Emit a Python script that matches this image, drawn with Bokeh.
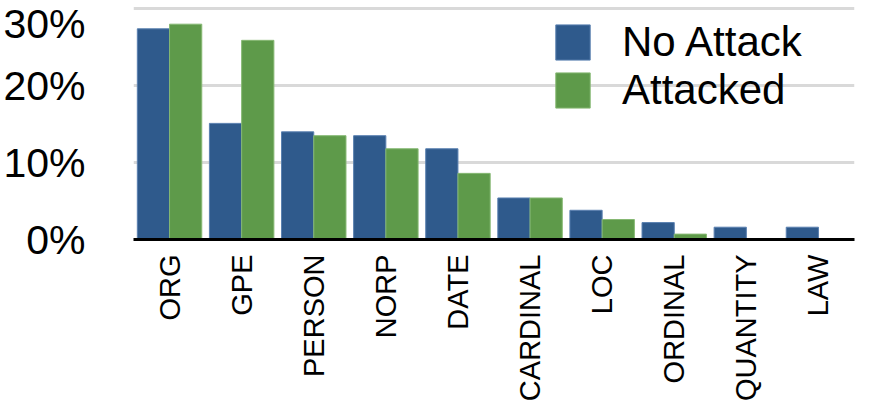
import math
from bokeh.plotting import figure
from bokeh.models import ColumnDataSource, FactorRange, Range1d, Legend, LegendItem, PrintfTickFormatter, FixedTicker
from bokeh.transform import dodge
from bokeh.embed import file_html
from bokeh.resources import INLINE

categories = ["ORG", "GPE", "PERSON", "NORP", "DATE", "CARDINAL", "LOC", "ORDINAL", "QUANTITY", "LAW"]
no_attack = [27.4, 15.1, 14.0, 13.5, 11.8, 5.4, 3.8, 2.2, 1.6, 1.6]
attacked = [28.0, 25.9, 13.5, 11.8, 8.6, 5.4, 2.6, 0.7, 0.0, 0.0]
y_ticks = [0, 10, 20, 30]
series_names = ["No Attack", "Attacked"]

BLUE = "#2f5a8c"
GREEN = "#5e9a4a"
FONT = "Liberation Sans"

src = ColumnDataSource(data=dict(cat=categories, no_attack=no_attack, attacked=attacked))

p = figure(width=856, height=404, x_range=FactorRange(*categories, range_padding=0),
           y_range=Range1d(0, 30.3), output_backend="svg", toolbar_location=None,
           min_border_left=124, min_border_right=2, min_border_top=6, min_border_bottom=0)

bw = 0.447
r1 = p.vbar(x=dodge("cat", -bw / 2, range=p.x_range), top="no_attack", width=bw, source=src,
            fill_color=BLUE, line_color="#5a80b0", line_width=1)
r2 = p.vbar(x=dodge("cat", bw / 2, range=p.x_range), top="attacked", width=bw, source=src,
            fill_color=GREEN, line_color="#86b873", line_width=1)

p.outline_line_color = None
p.xgrid.grid_line_color = None
p.ygrid.grid_line_color = "#d9d9d9"
p.ygrid.grid_line_width = 3
p.ygrid.ticker = FixedTicker(ticks=y_ticks)

p.yaxis.ticker = FixedTicker(ticks=y_ticks)
p.yaxis.formatter = PrintfTickFormatter(format="%d%%")
p.yaxis.axis_line_color = None
p.yaxis.major_tick_line_color = None
p.yaxis.minor_tick_line_color = None
p.yaxis.major_label_text_font = FONT
p.yaxis.major_label_text_font_size = "41px"
p.yaxis.major_label_text_color = "black"
p.yaxis.major_label_standoff = 42

p.xaxis.axis_line_color = "black"
p.xaxis.axis_line_width = 3
p.xaxis.major_tick_line_color = None
p.xaxis.minor_tick_line_color = None
p.xaxis.major_label_orientation = math.pi / 2
p.xaxis.major_label_text_font = FONT
p.xaxis.major_label_text_font_size = "29px"
p.xaxis.major_label_text_color = "black"
p.xaxis.major_label_standoff = 9

legend = Legend(items=[LegendItem(label=series_names[0], renderers=[r1]),
                       LegendItem(label=series_names[1], renderers=[r2])],
                location=(418, 125))
legend.glyph_width = 43
legend.glyph_height = 44
legend.label_height = 40
legend.spacing = 0
legend.padding = 0
legend.margin = 0
legend.label_standoff = 28
legend.label_text_font = FONT
legend.label_text_font_size = "42px"
legend.label_text_color = "black"
legend.border_line_color = None
legend.background_fill_alpha = 0
p.add_layout(legend, "center")

open("out.html", "w").write(file_html(p, INLINE))
